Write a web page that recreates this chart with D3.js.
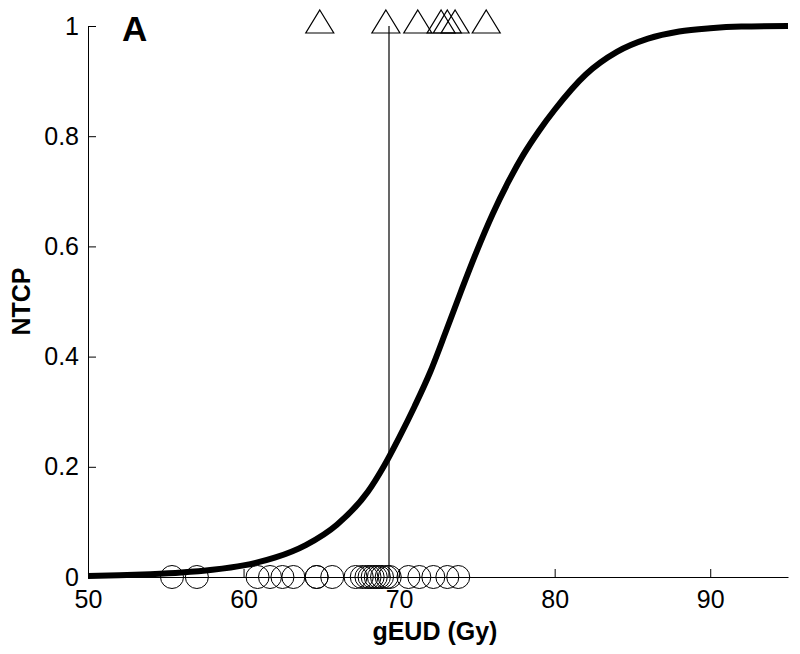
<!DOCTYPE html>
<html>
<head>
<meta charset="utf-8">
<script src="https://cdn.jsdelivr.net/npm/d3@7"></script>
<style>
  body { margin: 0; background: #fff; }
  svg text { font-family: Arial, "Liberation Sans", sans-serif; }
</style>
</head>
<body>
<svg id="container" width="800" height="654"></svg>
<script>
// fitted NTCP curve
const curveDose = [50, 52, 54, 56, 58, 60, 62, 64, 66, 68, 69, 70, 71, 72, 73, 74, 75, 76, 77, 78, 79, 80, 82, 84, 86, 88, 90, 92, 95]
const curveNtcp = [0.002, 0.003, 0.005, 0.008, 0.013, 0.021, 0.035, 0.058, 0.095, 0.155, 0.2, 0.253, 0.31, 0.372, 0.445, 0.52, 0.592, 0.658, 0.716, 0.767, 0.81, 0.848, 0.912, 0.953, 0.977, 0.99, 0.996, 0.999, 1.0]

// patients without complication (plotted at 0) and with (plotted at 1)
const noComplication = [55.4, 57.0, 60.9, 61.7, 62.5, 63.2, 64.7, 64.7, 65.7, 67.2, 67.6, 67.9, 68.1, 68.3, 68.5, 68.7, 68.9, 69.2, 69.4, 70.6, 71.3, 72.2, 73.1, 73.8]
const complication = [64.9, 69.15, 71.2, 72.7, 73.1, 73.6, 75.6]

const cutoffDose = 69.35

const xTicks = [50, 60, 70, 80, 90]
const yTicks = [0, 0.2, 0.4, 0.6, 0.8, 1]

const svg = d3.select('#container')

const x = d3.scaleLinear().domain([50, 95]).range([88, 788])
const y = d3.scaleLinear().domain([0, 1]).range([577, 26])

// axes
const xAxis = d3.axisBottom(x).tickValues(xTicks).tickSizeInner(-8).tickSizeOuter(0).tickPadding(13)
const yAxis = d3.axisLeft(y).tickValues(yTicks).tickSizeInner(-8).tickSizeOuter(0).tickPadding(9)
  .tickFormat((d) => (d === 0 || d === 1 ? d3.format('d')(d) : d3.format('.1f')(d)))

svg.append('g').attr('transform', `translate(0, ${y(0)})`).call(xAxis)
  .call((g) => g.selectAll('text').attr('font-size', 25).attr('fill', '#000'))
  .call((g) => g.select('.domain').attr('stroke', '#000'))
svg.append('g').attr('transform', `translate(${x(50)}, 0)`).call(yAxis)
  .call((g) => g.selectAll('text').attr('font-size', 25).attr('fill', '#000'))
  .call((g) => g.select('.domain').attr('stroke', '#000'))

// threshold line
svg.append('line')
  .attr('x1', x(cutoffDose)).attr('x2', x(cutoffDose))
  .attr('y1', y(1)).attr('y2', y(0))
  .attr('stroke', '#000').attr('stroke-width', 1.2)

// curve
const line = d3.line().x((d) => x(d[0])).y((d) => y(d[1])).curve(d3.curveMonotoneX)
svg.append('path')
  .datum(curveDose.map((d, i) => [d, curveNtcp[i]]))
  .attr('d', line)
  .attr('fill', 'none').attr('stroke', '#000').attr('stroke-width', 6)

// circles at 0
svg.selectAll('circle.none')
  .data(noComplication)
  .enter().append('circle')
  .attr('cx', (d) => x(d)).attr('cy', y(0)).attr('r', 11.5)
  .attr('fill', 'none').attr('stroke', '#000').attr('stroke-width', 1)

// triangles at 1
svg.selectAll('path.tri')
  .data(complication)
  .enter().append('path')
  .attr('d', (d) => {
    const cx = x(d), cy = y(1)
    return `M${cx},${cy - 16}L${cx + 14},${cy + 7}L${cx - 14},${cy + 7}Z`
  })
  .attr('fill', 'none').attr('stroke', '#000').attr('stroke-width', 1.2)

// labels
svg.append('text').attr('x', x(72.3)).attr('y', 640).attr('text-anchor', 'middle')
  .attr('font-size', 25).attr('font-weight', 'bold').text('gEUD (Gy)')
svg.append('text').attr('transform', `translate(30, ${y(0.5)}) rotate(-90)`).attr('text-anchor', 'middle')
  .attr('font-size', 25).attr('font-weight', 'bold').text('NTCP')
svg.append('text').attr('x', 122).attr('y', 41)
  .attr('font-size', 35).attr('font-weight', 'bold').text('A')
</script>
</body>
</html>
